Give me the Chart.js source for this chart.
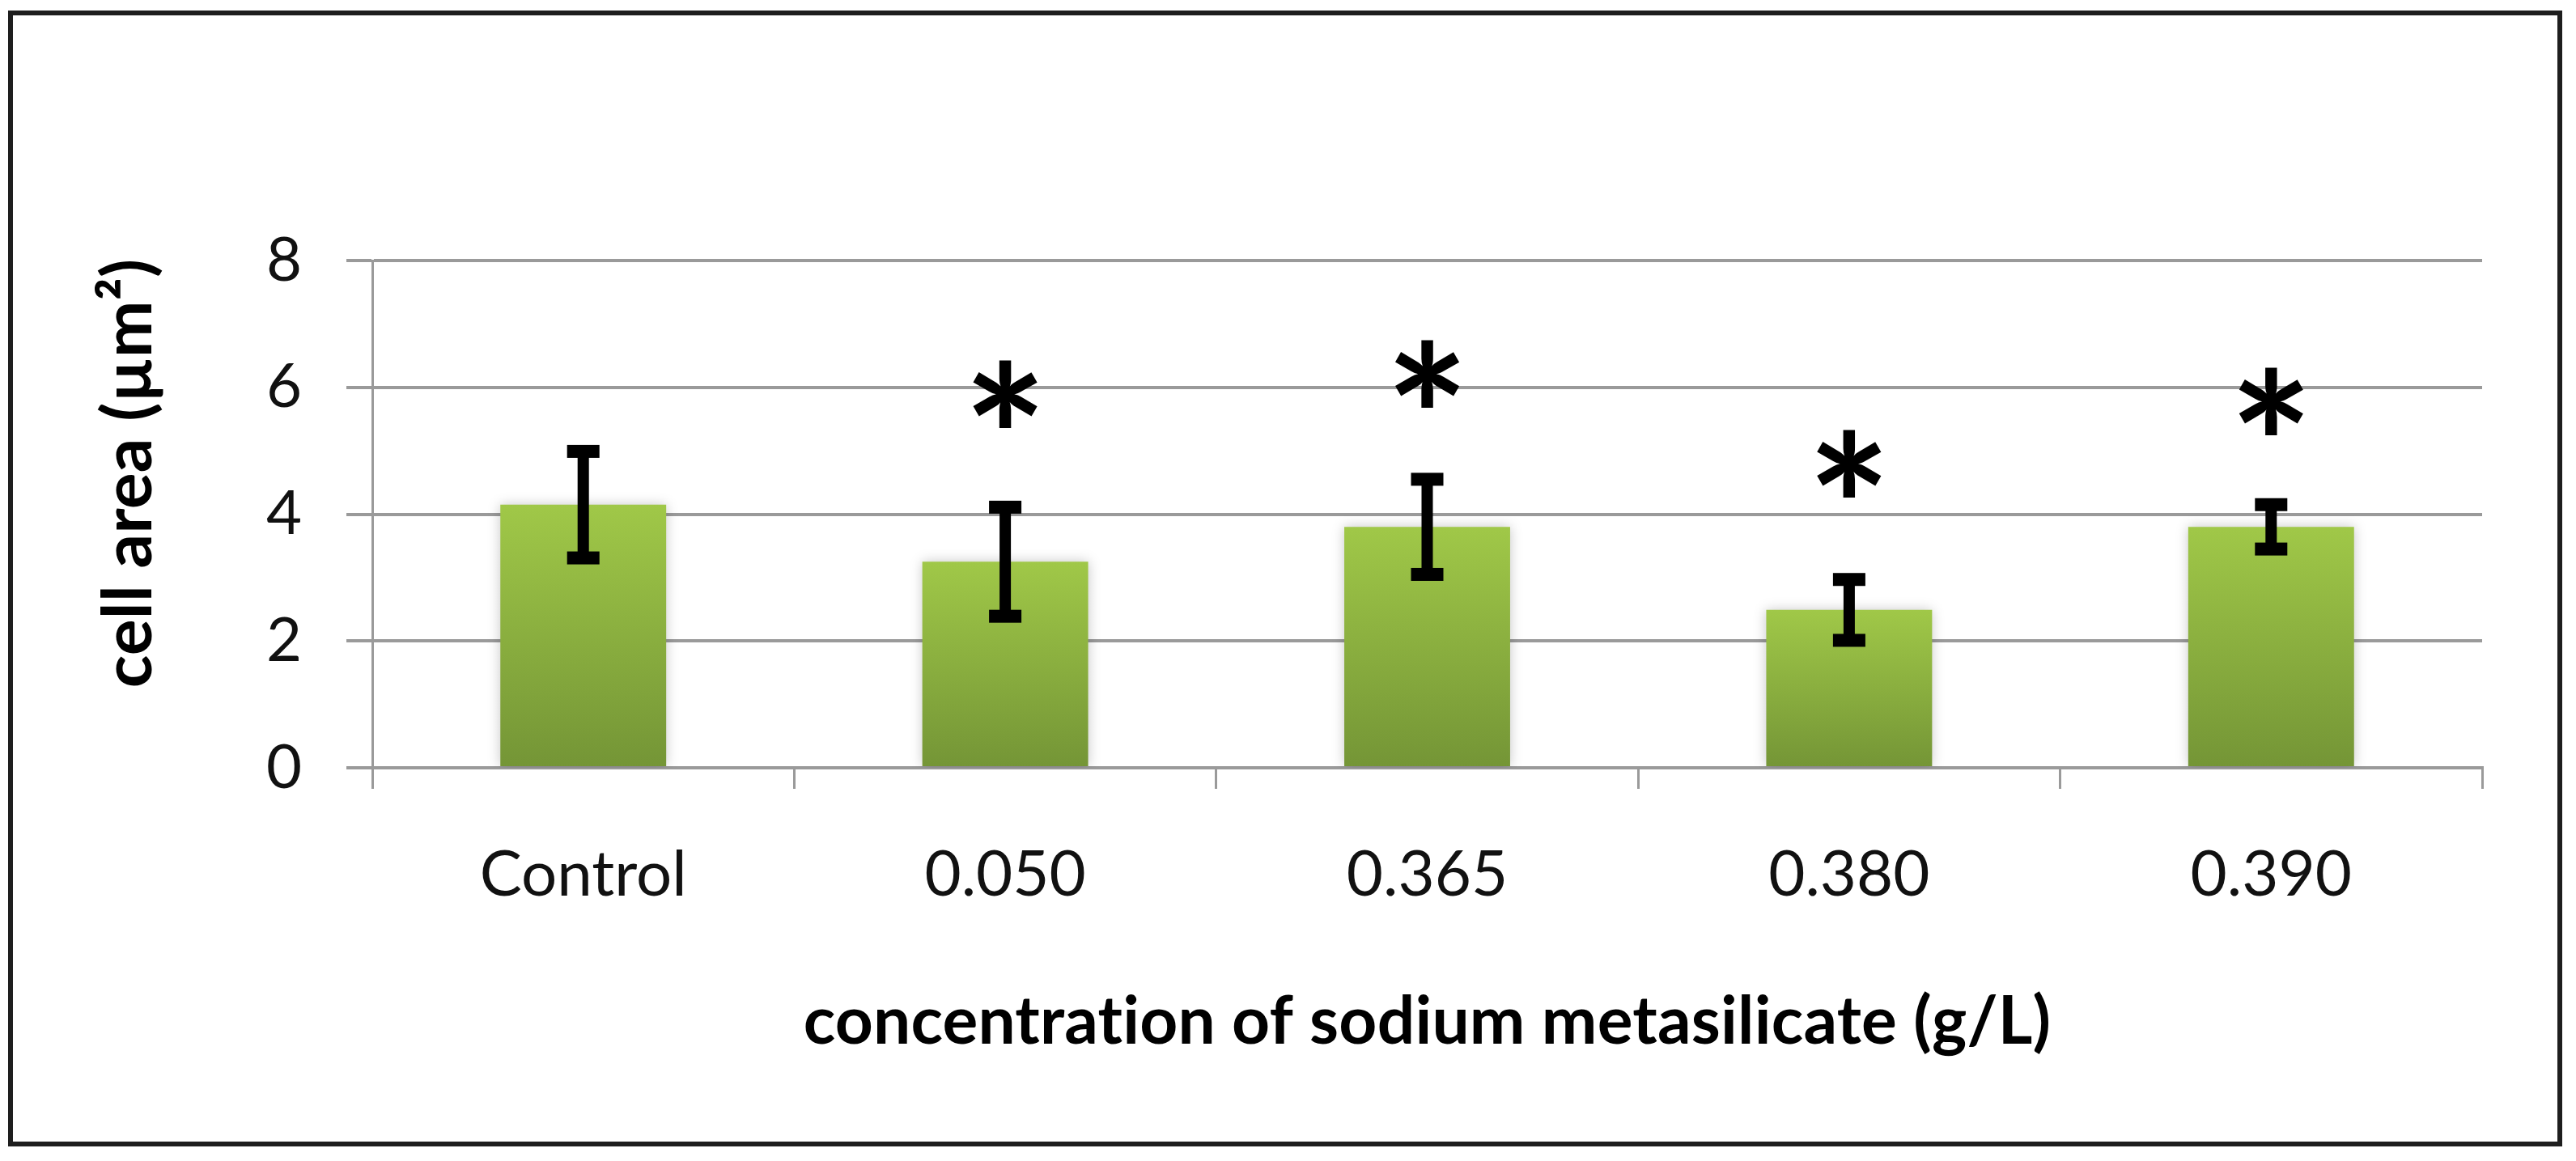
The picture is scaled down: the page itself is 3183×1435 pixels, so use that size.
<!DOCTYPE html>
<html>
<head>
<meta charset="utf-8">
<script src="https://cdn.jsdelivr.net/npm/chart.js@4.4.1/dist/chart.umd.min.js"></script>
<style>
  html, body { margin: 0; padding: 0; background: #ffffff; }
  canvas { display: block; }
</style>
</head>
<body>
<canvas id="c" width="3183" height="1435"></canvas>
<script>
// ---- data ----
const categories = ['Control', '0.050', '0.365', '0.380', '0.390'];
const meanArea   = [4.15, 3.25, 3.80, 2.49, 3.80];
const errArea    = [0.84, 0.86, 0.75, 0.48, 0.35];
const starLevel  = [null, 5.90, 6.22, 4.80, 5.78];
const yTickValues = [0, 2, 4, 6, 8];
const xTitle = 'concentration of sodium metasilicate (g/L)';
const yTitle = 'cell area (µm²)';

const GRID = '#9a9a9a';

function barGradient(ctx) {
  const chart = ctx.chart;
  const area = chart.chartArea;
  if (!area) return '#8db446';
  const ys = chart.scales.y;
  const v = ctx.raw;
  const top = ys.getPixelForValue(v);
  const bottom = ys.getPixelForValue(0);
  const g = chart.ctx.createLinearGradient(0, top, 0, bottom);
  g.addColorStop(0, 'rgb(160,200,72)');
  g.addColorStop(1, 'rgb(116,149,54)');
  return g;
}

const decorPlugin = {
  id: 'decor',
  beforeDraw(chart) {
    const c = chart.ctx;
    c.save();
    c.fillStyle = '#ffffff';
    c.fillRect(0, 0, chart.width, chart.height);
    c.strokeStyle = '#1e1e1e';
    c.lineWidth = 6;
    c.strokeRect(13, 16, 3150, 1398);
    c.restore();
  },
  beforeDatasetDraw(chart) {
    const c = chart.ctx;
    c.save();
    c.shadowColor = 'rgba(0,0,0,0.22)';
    c.shadowBlur = 14;
  },
  afterDatasetDraw(chart) {
    chart.ctx.restore();
  },
  afterDatasetsDraw(chart) {
    const c = chart.ctx;
    const xs = chart.scales.x, ys = chart.scales.y;
    c.save();
    // error bars
    c.fillStyle = '#000000';
    meanArea.forEach((m, i) => {
      const x = xs.getPixelForValue(i);
      const yTop = ys.getPixelForValue(m + errArea[i]);
      const yBot = ys.getPixelForValue(m - errArea[i]);
      c.fillRect(x - 7, yTop, 14, yBot - yTop);
      c.fillRect(x - 20, yTop - 8, 40, 16);
      c.fillRect(x - 20, yBot - 8, 40, 16);
    });
    // significance asterisks
    c.font = 'bold 245px Lato';
    c.textAlign = 'center';
    c.textBaseline = 'alphabetic';
    starLevel.forEach((s, i) => {
      if (s === null) return;
      const x = xs.getPixelForValue(i);
      const y = ys.getPixelForValue(s);
      const mt = c.measureText('*');
      const mid = (mt.actualBoundingBoxAscent - mt.actualBoundingBoxDescent) / 2;
      c.fillText('*', x, y + mid);
    });
    // axis titles
    c.fillStyle = '#000000';
    c.font = 'bold 82px Lato';
    c.textAlign = 'center';
    c.textBaseline = 'alphabetic';
    if ('letterSpacing' in c) c.letterSpacing = '0.2px';
    c.fillText(xTitle, (chart.chartArea.left + chart.chartArea.right) / 2, 1290);
    c.save();
    c.translate(187, 585);
    c.rotate(-Math.PI / 2);
    c.font = 'bold 84px Lato';
    c.fillText(yTitle, 0, 0);
    c.restore();
    c.restore();
  }
};

new Chart(document.getElementById('c'), {
  type: 'bar',
  data: {
    labels: categories,
    datasets: [{
      data: meanArea,
      backgroundColor: barGradient,
      borderWidth: 0,
      barPercentage: 0.393,
      categoryPercentage: 1.0
    }]
  },
  options: {
    responsive: false,
    animation: false,
    devicePixelRatio: 1,
    layout: { padding: { left: 0, top: 322, right: 116, bottom: 0 } },
    plugins: { legend: { display: false }, tooltip: { enabled: false } },
    scales: {
      x: {
        type: 'category',
        offset: true,
        grid: { display: true, offset: true, drawOnChartArea: false, drawTicks: true, tickLength: 26, color: GRID, lineWidth: 3 },
        border: { display: true, color: GRID, width: 4 },
        ticks: { color: '#111111', font: { family: 'Lato', size: 78 }, padding: 60, maxRotation: 0 },
        afterFit(scale) { scale.height = 1435 - 949; }
      },
      y: {
        min: 0, max: 8,
        afterBuildTicks(scale) { scale.ticks = yTickValues.map(v => ({ value: v })); },
        grid: { color: GRID, lineWidth: 4, tickLength: 32, drawTicks: true },
        border: { display: true, color: GRID, width: 3 },
        ticks: { color: '#111111', font: { family: 'Lato', size: 76 }, padding: 55 },
        afterFit(scale) { scale.width = 460; }
      }
    }
  },
  plugins: [decorPlugin]
});
</script>
</body>
</html>
